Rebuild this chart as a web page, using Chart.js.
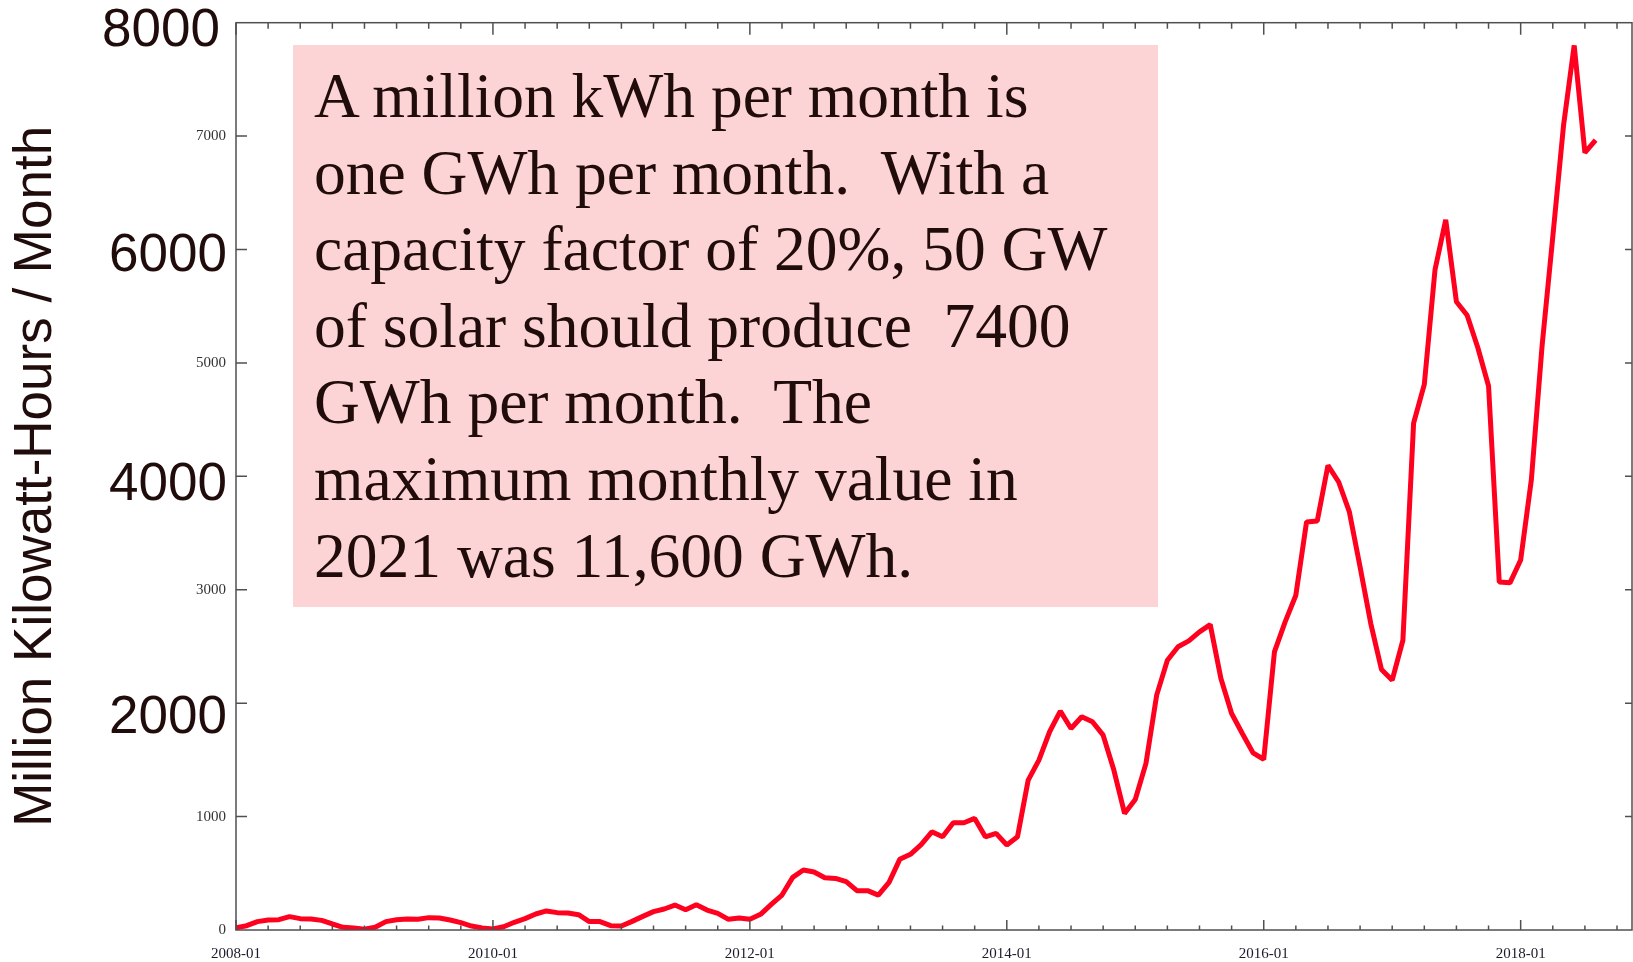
<!DOCTYPE html>
<html>
<head>
<meta charset="utf-8">
<title>US solar generation per month</title>
<script src="https://cdn.jsdelivr.net/npm/chart.js@4.4.0/dist/chart.umd.min.js"></script>
<style>
  html, body { margin: 0; padding: 0; background: #fff; }
  #wrap { position: relative; width: 1633px; height: 962px; }
  #note {
    position: absolute; left: 293px; top: 45px; width: 865px; height: 562px;
    box-sizing: border-box; padding: 13px 0 0 21px;
    background: #fdd4d5; color: #210c0c;
    font-family: 'Liberation Serif', 'Times New Roman', serif;
    font-size: 63.5px; line-height: 76.6px; white-space: pre;
  }
</style>
</head>
<body>
<div id="wrap">
  <canvas id="solarChart" width="1633" height="962"></canvas>
  <div id="note">A million kWh per month is
one GWh per month.  With a
capacity factor of 20%, 50 GW
of solar should produce  7400
GWh per month.  The
maximum monthly value in
2021 was 11,600 GWh.</div>
</div>
<script>
// Monthly values, million kWh (Jan..Dec)
const y2008 = [20, 38, 74, 88, 91, 118, 100, 97, 85, 53, 24, 18];
const y2009 = [6, 24, 74, 91, 97, 94, 109, 106, 88, 65, 35, 18];
const y2010 = [9, 29, 68, 100, 141, 168, 153, 150, 135, 74, 74, 38];
const y2011 = [35, 76, 120, 162, 185, 220, 179, 223, 176, 147, 94, 106];
const y2012 = [95, 138, 226, 308, 464, 529, 511, 461, 455, 426, 347, 347];
const y2013 = [308, 420, 623, 667, 752, 866, 822, 946, 946, 984, 822, 852];
const y2014 = [750, 822, 1322, 1498, 1748, 1930, 1777, 1880, 1836, 1718, 1410, 1028];
const y2015 = [1151, 1469, 2071, 2379, 2497, 2549, 2629, 2693, 2217, 1909, 1733, 1562];
const y2016 = [1504, 2452, 2717, 2952, 3598, 3607, 4097, 3950, 3686, 3201, 2702, 2297];
const y2017 = [2203, 2555, 4470, 4811, 5821, 6262, 5539, 5421, 5134, 4797, 3068, 3061];
const y2018 = [3263, 3971, 5150, 6110, 7090, 7800, 6854, 6965];

const xTickMonths = [0, 24, 48, 72, 96, 120];
const xTickLabels = ['2008-01', '2010-01', '2012-01', '2014-01', '2016-01', '2018-01'];
const bigYLabels = [8000, 6000, 4000, 2000];

const solarGWh = [].concat(y2008, y2009, y2010, y2011, y2012, y2013, y2014, y2015, y2016, y2017, y2018);

// frame with inward ticks on all four sides, plus the large overlaid y labels
const frameTicks = {
    id: 'frameTicks',
    afterDraw(chart) {
        const { ctx, chartArea: a, scales: { x, y } } = chart;
        ctx.save();
        ctx.strokeStyle = '#505050';
        ctx.lineWidth = 1.5;
        ctx.strokeRect(a.left, a.top, a.right - a.left, a.bottom - a.top);

        ctx.beginPath();
        for (let m = 0; m <= x.max; m += 3) {
            const px = x.getPixelForValue(m);
            const major = m % 24 === 0;
            ctx.moveTo(px, a.bottom);
            ctx.lineTo(px, a.bottom - (major ? 10 : 4.5));
            ctx.moveTo(px, a.top);
            ctx.lineTo(px, a.top + (major ? 12 : 6));
        }
        for (let v = 1000; v < y.max; v += 1000) {
            const py = y.getPixelForValue(v);
            ctx.moveTo(a.left, py);
            ctx.lineTo(a.left + 11, py);
            ctx.moveTo(a.right, py);
            ctx.lineTo(a.right - 7, py);
        }
        ctx.stroke();

        // big labels sit a little below their ticks in the original
        const nudge = { 8000: 23, 6000: 21, 4000: 24, 2000: 30 };
        ctx.fillStyle = '#210c0c';
        ctx.font = '53px "Liberation Sans", Arial, sans-serif';
        ctx.textAlign = 'right';
        ctx.textBaseline = 'alphabetic';
        bigYLabels.forEach(v => {
            const right = v === 8000 ? 220 : 227;
            ctx.fillText(String(v), right, y.getPixelForValue(v) + nudge[v]);
        });
        ctx.restore();
    }
};

document.addEventListener('DOMContentLoaded', function() {
    const ctx = document.getElementById('solarChart').getContext('2d');

    new Chart(ctx, {
        type: 'line',
        data: {
            datasets: [{
                data: solarGWh.map((v, i) => ({ x: i, y: v })),
                borderColor: '#ff001e',
                borderWidth: 5,
                borderJoinStyle: 'bevel',
                pointRadius: 0,
                tension: 0,
                fill: false
            }]
        },
        options: {
            responsive: false,
            animation: false,
            devicePixelRatio: 1,
            layout: { padding: { top: 22.7, right: 1, left: 0, bottom: 0 } },
            plugins: {
                legend: { display: false },
                tooltip: { enabled: false }
            },
            scales: {
                x: {
                    type: 'linear',
                    min: 0,
                    max: 130.4,
                    grid: { display: false, drawTicks: false },
                    border: { display: false },
                    afterBuildTicks: scale => {
                        scale.ticks = xTickMonths.map(v => ({ value: v }));
                    },
                    afterFit: scale => { scale.height = 32; },
                    ticks: {
                        autoSkip: false,
                        maxRotation: 0,
                        padding: 15,
                        color: '#1a1a2a',
                        font: { family: '"Liberation Serif", "Times New Roman", serif', size: 15 },
                        callback: (value, index) => xTickLabels[index]
                    }
                },
                y: {
                    min: 0,
                    max: 8000,
                    grid: { display: false, drawTicks: false },
                    border: { display: false },
                    afterFit: scale => { scale.width = 236; },
                    ticks: {
                        stepSize: 1000,
                        padding: 10,
                        color: '#333',
                        font: { family: '"Liberation Serif", "Times New Roman", serif', size: 15 },
                        callback: v => bigYLabels.includes(v) ? '' : v
                    },
                    title: {
                        display: true,
                        text: 'Million Kilowatt-Hours / Month',
                        color: '#210c0c',
                        padding: { top: 5, bottom: 0 },
                        font: { family: '"Liberation Sans", Arial, sans-serif', size: 53 }
                    }
                }
            }
        },
        plugins: [frameTicks]
    });
});
</script>
</body>
</html>
